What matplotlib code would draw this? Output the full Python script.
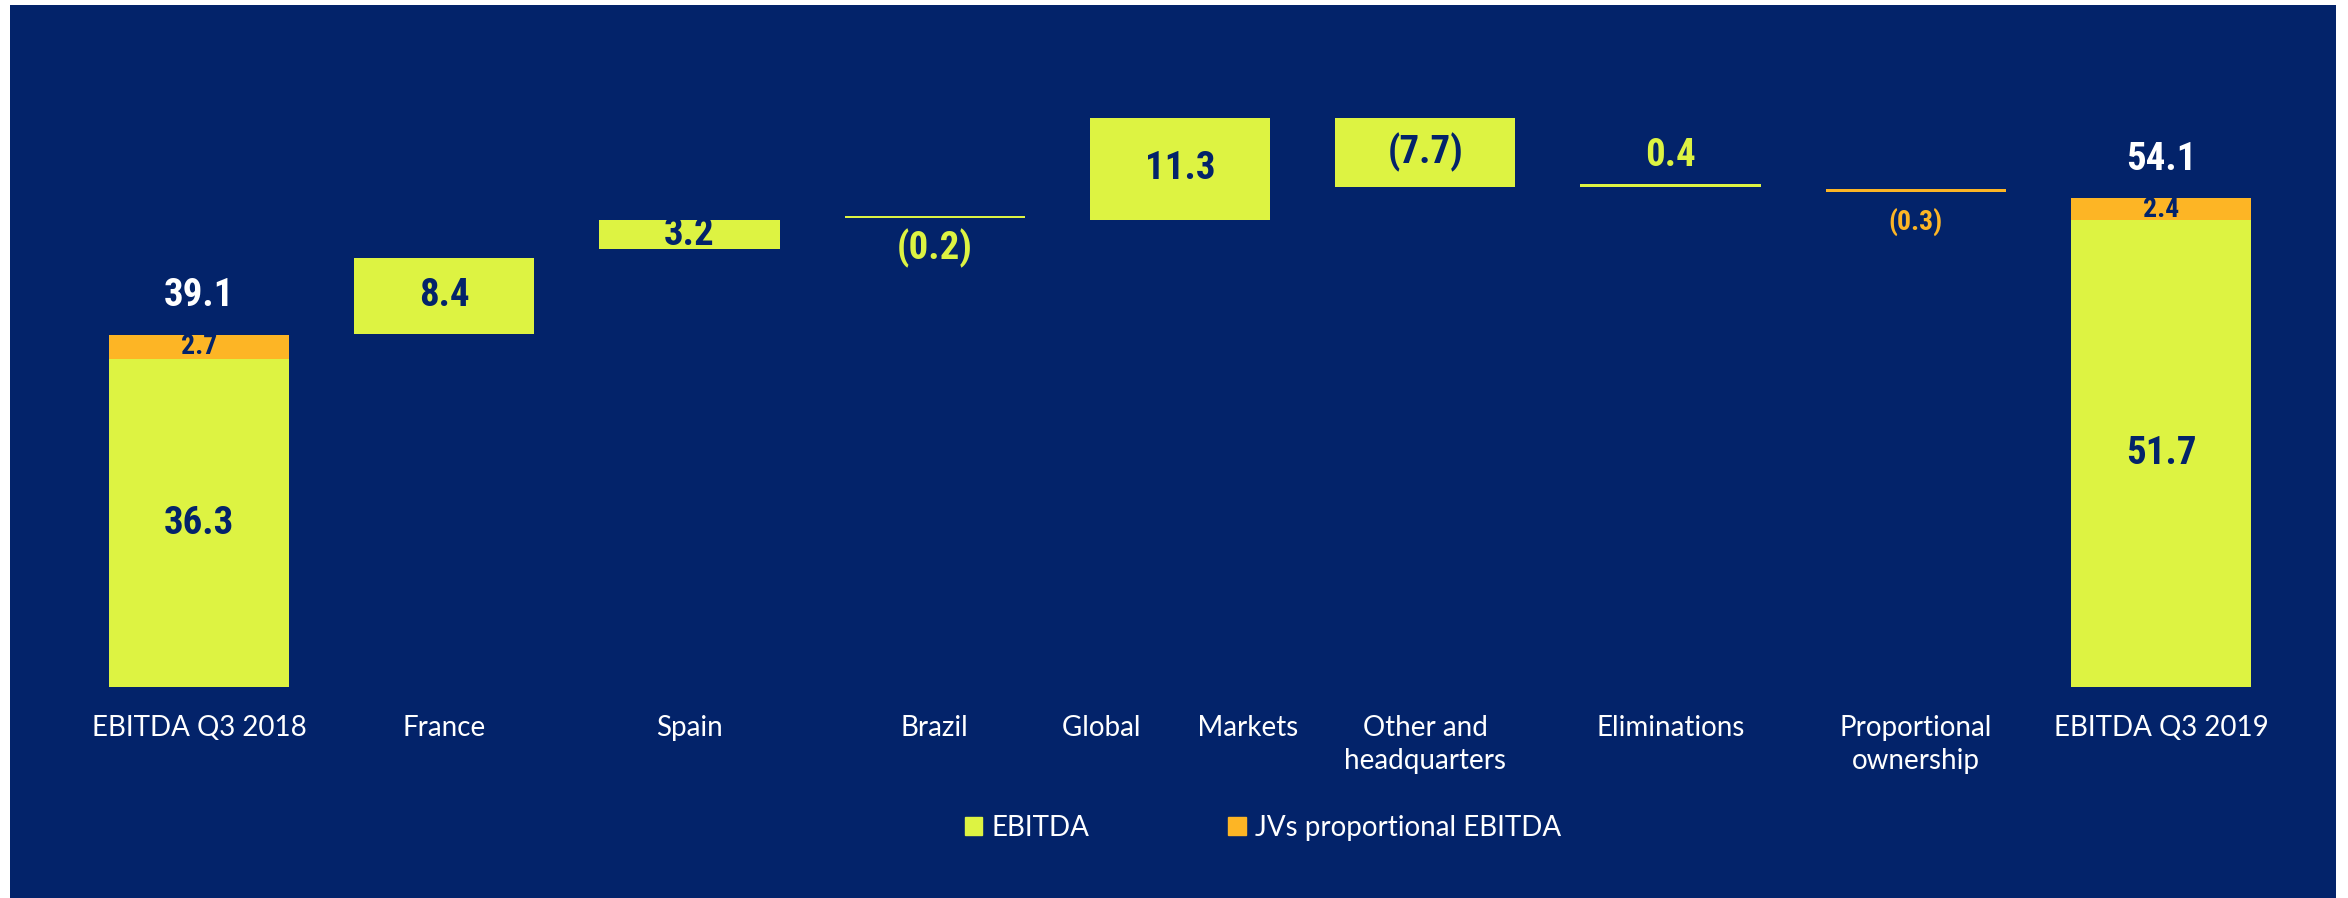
import matplotlib.pyplot as plt
from matplotlib import font_manager
from matplotlib.patches import Patch, Rectangle

# data (EUR m)
categories = ["EBITDA Q3 2018", "France", "Spain", "Brazil", "Global        Markets",
              "Other and\nheadquarters", "Eliminations", "Proportional\nownership", "EBITDA Q3 2019"]
ebitda = [36.3, 8.4, 3.2, -0.2, 11.3, -7.7, 0.4, 0.0, 51.7]
jv_ebitda = [2.7, 0.0, 0.0, 0.0, 0.0, 0.0, 0.0, -0.3, 2.4]
# lower edge of each floating step as drawn on the slide
step_floor = [0.0, 39.1, 48.5, 51.9, 51.7, 55.3, 55.3, 54.8, 0.0]
total_idx = [0, 8]
total_values = [39.1, 54.1]

NAVY = "#03236A"
GREEN = "#DDF342"
ORANGE = "#FDB525"

names = {f.name for f in font_manager.fontManager.ttflist}
num_font = "Liberation Sans"
for cand in ["Liberation Sans Narrow", "Arial Narrow", "Roboto Condensed", "Open Sans Condensed"]:
    if cand in names:
        num_font = cand
        break
txt_font = "Lato"


def fmt(v):
    return f"{v:.1f}" if v >= 0 else f"({-v:.1f})"


W, H = 2348, 898
fig = plt.figure(figsize=(W / 100, H / 100), dpi=100, facecolor="white")
fig.patches.append(Rectangle((10 / W, 0), 2326 / W, 893 / H, transform=fig.transFigure,
                             facecolor=NAVY, edgecolor="none", zorder=-10))

ax = fig.add_axes([10 / W, (H - 687) / H, 2326 / W, 682 / H])
ax.set_facecolor("none")
ax.set_xlim(-0.771, 8.714)
ax.set_ylim(0, 75.5)
for s in ax.spines.values():
    s.set_visible(False)
ax.set_yticks([])

x = list(range(len(categories)))
bw = 0.735
green_h = [abs(v) for v in ebitda]
orange_h = [abs(v) for v in jv_ebitda]
orange_b = [f + g for f, g in zip(step_floor, green_h)]
ax.bar(x, green_h, bw, bottom=step_floor, color=GREEN, linewidth=0)
ax.bar(x, orange_h, bw, bottom=orange_b, color=ORANGE, linewidth=0)

big = dict(fontfamily=num_font, fontweight="bold", fontsize=28, ha="center", va="center")
small = dict(big, fontsize=20)

for i in x:
    if i in total_idx:
        ax.text(i, step_floor[i] + green_h[i] / 2, fmt(ebitda[i]), color=NAVY, **big)
        ax.text(i, orange_b[i] + orange_h[i] / 2, fmt(jv_ebitda[i]), color=NAVY, **small)
        top = orange_b[i] + orange_h[i]
        ax.annotate(fmt(total_values[total_idx.index(i)]), (i, top), xytext=(0, 39),
                    textcoords="offset pixels", color="white", **big)
        continue
    v = ebitda[i] if ebitda[i] != 0 else jv_ebitda[i]
    color = GREEN if ebitda[i] != 0 else ORANGE
    h = abs(v)
    if h >= 1:
        ax.text(i, step_floor[i] + h / 2, fmt(v), color=NAVY, **big)
    elif v > 0:
        ax.annotate(fmt(v), (i, step_floor[i] + h), xytext=(0, 28),
                    textcoords="offset pixels", color=color, **big)
    else:
        style = big if color == GREEN else dict(big, fontsize=20)
        ax.annotate(fmt(v), (i, step_floor[i]), xytext=(0, -30),
                    textcoords="offset pixels", color=color, **style)

ax.set_xticks(x)
ax.set_xticklabels(categories, fontfamily=txt_font, fontsize=20, color="white", linespacing=1.35)
ax.tick_params(axis="x", length=0, pad=20)

handles = [Patch(color=GREEN, label="EBITDA"), Patch(color=ORANGE, label="JVs proportional EBITDA")]
fig.legend(handles=handles, loc="center", bbox_to_anchor=(1263 / W, 70 / H), ncol=2, frameon=False,
           prop={"family": txt_font, "size": 20}, labelcolor="white", handlelength=0.62,
           handleheight=0.62, handletextpad=0.35, columnspacing=5.0)

fig.savefig("out.png", dpi=100, facecolor=fig.get_facecolor())
